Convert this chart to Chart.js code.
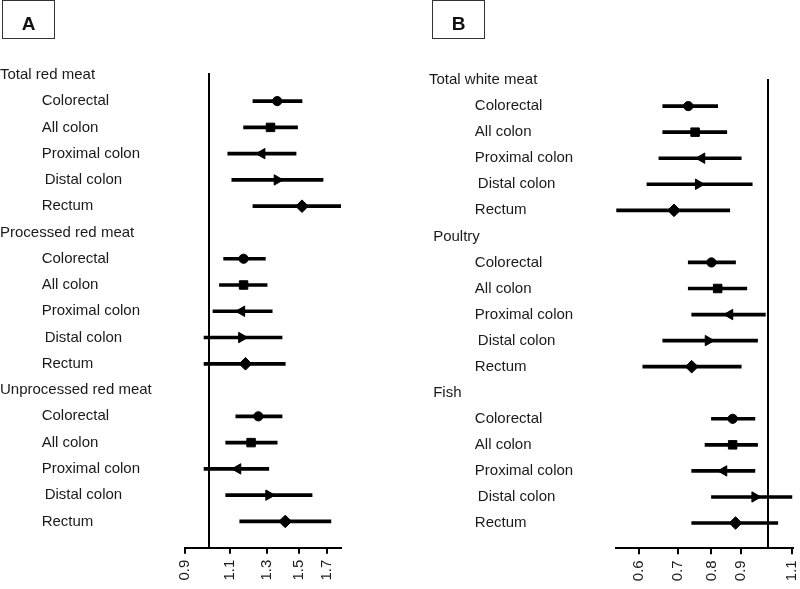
<!DOCTYPE html>
<html>
<head>
<meta charset="utf-8">
<script src="https://cdn.jsdelivr.net/npm/chart.js@4.4.1/dist/chart.umd.min.js"></script>
<style>
  body { margin: 0; background: #fff; }
  #wrap { position: relative; width: 800px; height: 589px; overflow: hidden; }
  #wrap canvas { position: absolute; top: 0; }
  .panel-box { position: absolute; top: 0; width: 53px; height: 39px; box-sizing: border-box; border: 1.5px solid #333; }
  .panel-tag { position: absolute; top: 13px; width: 53px; text-align: center; font: bold 19px/21px "Liberation Sans", Arial, sans-serif; color: #111; }
</style>
</head>
<body>
<div id="wrap">
  <canvas id="chartA" width="400" height="589" style="left:0"></canvas>
  <canvas id="chartB" width="400" height="589" style="left:400px"></canvas>
  <div class="panel-box" style="left:2px"></div>
  <div class="panel-tag" style="left:2px">A</div>
  <div class="panel-box" style="left:432px"></div>
  <div class="panel-tag" style="left:432px">B</div>
</div>
<script>
// sub-sites, same order inside every group
const sites = ["Colorectal", "All colon", "Proximal colon", "Distal colon", "Rectum"];
const siteMarkers = ["circle", "rect", "triangle", "triangle", "rectRot"];
const siteRotation = [0, 0, -90, 90, 0];
const siteRadius = [4.6, 6, 6, 6, 6.3];

// panel A: red meat (RR and 95% CI, 5 sites per group)
const groupsA = ["Total red meat", "Processed red meat", "Unprocessed red meat"];
const estA = [1.36, 1.32, 1.27, 1.36, 1.52,
              1.17, 1.17, 1.16, 1.16, 1.18,
              1.25, 1.21, 1.14, 1.31, 1.41];
const lowA = [1.22, 1.17, 1.09, 1.11, 1.22,
              1.07, 1.05, 1.02, 0.98, 0.98,
              1.13, 1.08, 0.98, 1.08, 1.15];
const highA = [1.52, 1.49, 1.48, 1.67, 1.81,
               1.29, 1.30, 1.33, 1.39, 1.41,
               1.39, 1.36, 1.31, 1.59, 1.73];
const ticksA = [0.9, 1.1, 1.3, 1.5, 1.7];

// panel B: white meat
const groupsB = ["Total white meat", "Poultry", "Fish"];
const estB = [0.73, 0.75, 0.77, 0.76, 0.69,
              0.80, 0.82, 0.86, 0.79, 0.74,
              0.87, 0.87, 0.84, 0.95, 0.88];
const lowB = [0.66, 0.66, 0.65, 0.62, 0.55,
              0.73, 0.73, 0.74, 0.66, 0.61,
              0.80, 0.78, 0.74, 0.80, 0.74];
const highB = [0.82, 0.85, 0.90, 0.94, 0.86,
               0.88, 0.92, 0.99, 0.96, 0.90,
               0.95, 0.96, 0.95, 1.10, 1.04];
const ticksB = [0.6, 0.7, 0.8, 0.9, 1.1];

const FONT = "'Liberation Sans', Arial, sans-serif";

function makeForest(canvasId, groups, est, low, high, ticks, cfg) {
  const rows = [];
  const points = [];
  const intervals = [];
  const styles = [], rotations = [], radii = [];

  groups.forEach((g, gi) => {
    rows.push(cfg.headIndent[gi] + g);
    sites.forEach((s, si) => {
      const k = gi * sites.length + si;
      const r = rows.length;
      rows.push(cfg.subIndent + (si === 3 ? "\u2009" : "") + s);
      points.push({ x: est[k], y: r });
      intervals.push({ x: [low[k], high[k]], y: r });
      styles.push(siteMarkers[si]);
      rotations.push(siteRotation[si]);
      radii.push(siteRadius[si]);
    });
  });

  return new Chart(document.getElementById(canvasId), {
    type: "bar",
    data: {
      datasets: [
        {
          type: "line",
          data: points,
          showLine: false,
          pointStyle: styles,
          pointRotation: rotations,
          pointRadius: radii,
          pointBackgroundColor: "#000",
          pointBorderColor: "#000",
          pointBorderWidth: 1,
          order: 0
        },
        {
          type: "bar",
          data: intervals,
          backgroundColor: "#000",
          borderWidth: 0,
          barThickness: 3,
          order: 1
        }
      ]
    },
    options: {
      indexAxis: "y",
      responsive: false,
      animation: false,
      layout: { padding: cfg.padding },
      plugins: { legend: { display: false }, tooltip: { enabled: false } },
      scales: {
        x: {
          type: "logarithmic",
          min: cfg.xMin,
          max: cfg.xMax,
          beginAtZero: false,
          offset: false,
          afterBuildTicks: (scale) => {
            scale.ticks = [...ticks, 1].sort((a, b) => a - b).map((v) => ({ value: v }));
          },
          afterFit: (scale) => {
            scale.height = cfg.axisHeight;
            scale.paddingLeft = 0;
            scale.paddingRight = 0;
          },
          ticks: {
            autoSkip: false,
            minRotation: 90,
            maxRotation: 90,
            padding: 6,
            color: "#1a1a1a",
            font: { family: FONT, size: 15 },
            callback: (v) => (v === 1 ? "" : v.toFixed(1))
          },
          grid: {
            lineWidth: 2,
            tickWidth: 2,
            tickLength: 6,
            color: (ctx) => (ctx.tick && ctx.tick.value === 1 ? "#000" : "rgba(0,0,0,0)"),
            tickColor: (ctx) => (ctx.tick && ctx.tick.value === 1 ? "rgba(0,0,0,0)" : "#000")
          },
          border: { display: true, color: "#000", width: 2 }
        },
        y: {
          type: "linear",
          reverse: true,
          offset: false,
          min: cfg.yMin,
          max: cfg.yMax,
          afterBuildTicks: (scale) => {
            scale.ticks = rows.map((_, i) => ({ value: i }));
          },
          afterFit: (scale) => {
            scale.width = cfg.labelWidth;
          },
          ticks: {
            autoSkip: false,
            crossAlign: "far",
            color: "#1a1a1a",
            font: { family: FONT, size: 15 },
            callback: (v) => rows[v]
          },
          grid: { display: false, offset: false },
          border: { display: false }
        }
      }
    }
  });
}

makeForest("chartA", groupsA, estA, lowA, highA, ticksA, {
  headIndent: ["", "", ""],
  subIndent: "          ",
  padding: { left: 0, top: 73, right: 59, bottom: 0 },
  labelWidth: 185,
  axisHeight: 41.3,
  xMin: 0.9,
  xMax: 1.81,
  yMin: -0.07,
  yMax: 18
});

makeForest("chartB", groupsB, estB, lowB, highB, ticksB, {
  headIndent: ["", " ", " "],
  subIndent: "           ",
  padding: { left: 29, top: 79, right: 6, bottom: 0 },
  labelWidth: 186.7,
  axisHeight: 40.7,
  xMin: 0.548,
  xMax: 1.103,
  yMin: -0.04,
  yMax: 17.97
});
</script>
</body>
</html>
